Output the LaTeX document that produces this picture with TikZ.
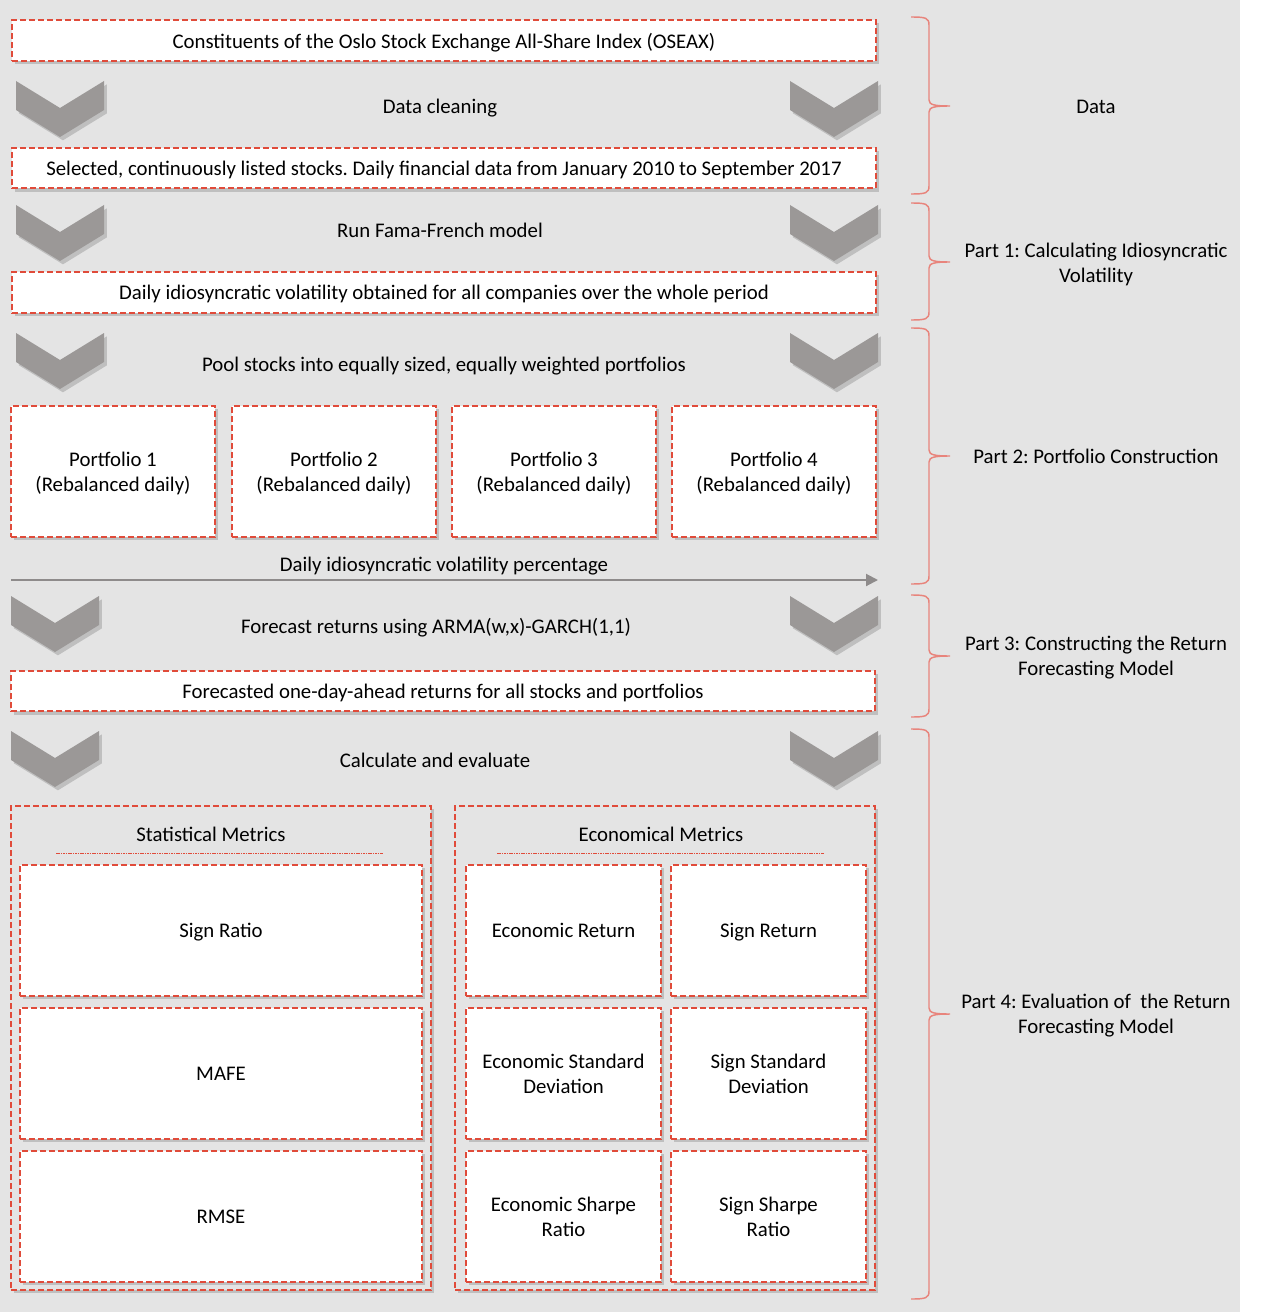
\documentclass[tikz,border=0pt]{standalone}
\usepackage{fontspec}
\setmainfont{Carlito}
\frenchspacing
\usetikzlibrary{shadows,arrows.meta}
\definecolor{bg}{HTML}{E4E4E4}
\definecolor{boxred}{HTML}{E04B3A}
\definecolor{bracered}{HTML}{E8847C}
\definecolor{chev}{HTML}{9B9897}
\definecolor{arrowgray}{HTML}{8E8B8B}
\tikzset{
  box/.style={draw=boxred, line width=1.5pt, dash pattern=on 4.5pt off 2.25pt,
    fill=white, inner sep=0pt, align=center, text depth=0pt,
    drop shadow={shadow xshift=2.2pt, shadow yshift=-2.5pt, fill=black, opacity=0.16}},
  widebox/.style={box, minimum width=648pt, minimum height=30.5pt},
  portbox/.style={box, minimum width=153pt, minimum height=98.25pt},
  groupbox/.style={box, fill=bg, minimum width=315pt, minimum height=363pt},
  statbox/.style={box, minimum width=301.5pt, minimum height=98.25pt},
  econbox/.style={box, minimum width=146.25pt, minimum height=98.25pt},
  plain/.style={inner sep=0pt, align=center, text depth=0pt},
  chevshape/.style={fill=chev, drop shadow={shadow xshift=2.2pt, shadow yshift=-2.5pt, fill=black, opacity=0.16}},
  bracestyle/.style={draw=bracered, line width=1.1pt},
  subline/.style={draw=boxred, line width=0.6pt, dash pattern=on 1.2pt off 0.6pt},
}
\newcommand{\mychev}[2]{%
  \path[chevshape] (#1,#2) -- ++(44,27) -- ++(44,-27) -- ++(0,29) -- ++(-44,27) -- ++(-44,-27) -- cycle;}
\newcommand{\mybrace}[3]{%
  \draw[bracestyle] (911,#1) .. controls (926,#1) and (929,#1+1) .. (929,#1+8)
    -- (929,#2-6) .. controls (929,#2-1) and (935,#2) .. (950,#2)
    .. controls (935,#2) and (929,#2+1) .. (929,#2+6)
    -- (929,#3-8) .. controls (929,#3-1) and (926,#3) .. (911,#3);}
\begin{document}
\begin{tikzpicture}[x=0.75pt,y=-0.75pt,
  every node/.style={font=\fontsize{15.6}{18.75}\selectfont, text=black}]
\useasboundingbox (0,0) rectangle (1279,1312);
\fill[bg] (0,0) rectangle (1240,1312);

% chevrons
\mychev{16}{81}  \mychev{790}{81}
\mychev{16}{205} \mychev{790}{205}
\mychev{16}{333} \mychev{790}{333}
\mychev{11}{596} \mychev{790}{596}
\mychev{11}{731} \mychev{790}{731}

% data boxes
\node[widebox] (oseax) at (444,40.5) {Constituents of the Oslo Stock Exchange All-Share Index (OSEAX)};
\node[plain] (clean) at (440,106) {Data cleaning};
\node[widebox] (selected) at (444,168) {Selected, continuously listed stocks. Daily financial data from January 2010 to September 2017};
\node[plain] (ff) at (440,230) {Run Fama-French model};
\node[widebox] (idio) at (444,292.5) {Daily idiosyncratic volatility obtained for all companies over the whole period};
\node[plain] (pool) at (444,364) {Pool stocks into equally sized, equally weighted portfolios};

\node[portbox] (p1) at (113,471.5) {Portfolio 1\\(Rebalanced daily)};
\node[portbox] (p2) at (334,471.5) {Portfolio 2\\(Rebalanced daily)};
\node[portbox] (p3) at (554,471.5) {Portfolio 3\\(Rebalanced daily)};
\node[portbox] (p4) at (774,471.5) {Portfolio 4\\(Rebalanced daily)};

\node[plain] (dailyvol) at (444,564) {Daily idiosyncratic volatility percentage};
\coordinate (arrS) at (11,580);
\coordinate (arrE) at (878,580);
\draw[draw=arrowgray, line width=1.5pt, -{Triangle[length=9pt,width=9pt]}] (arrS) -- (arrE);

\node[plain] (arma) at (436,626) {Forecast returns using ARMA(w,x)-GARCH(1,1)};
\node[widebox] (fcast) at (443,691) {Forecasted one-day-ahead returns for all stocks and portfolios};
\node[plain] (calc) at (435,760) {Calculate and evaluate};

% metric groups
\node[groupbox] (stat) at (221,1048) {};
\node[groupbox] (econ) at (665,1048) {};
\node[plain] (statT) at (211,834) {Statistical Metrics};
\node[plain] (econT) at (661,834) {Economical Metrics};
\coordinate (sl1) at (56,853); \coordinate (sl2) at (383,853);
\coordinate (el1) at (497,853); \coordinate (el2) at (824,853);
\draw[subline] (sl1) -- (sl2);
\draw[subline] (el1) -- (el2);

\node[statbox] (sr) at (221,930.5) {Sign Ratio};
\node[statbox] (mafe) at (221,1073.5) {MAFE};
\node[statbox] (rmse) at (221,1216.5) {RMSE};

\node[econbox] (er) at (563.5,930.5) {Economic Return};
\node[econbox] (sret) at (768.5,930.5) {Sign Return};
\node[econbox] (esd) at (563.5,1073.5) {Economic Standard\\Deviation};
\node[econbox] (ssd) at (768.5,1073.5) {Sign Standard\\Deviation};
\node[econbox] (esr) at (563.5,1216.5) {Economic Sharpe\\Ratio};
\node[econbox] (ssr) at (768.5,1216.5) {Sign Sharpe\\Ratio};

% braces
\mybrace{17}{106}{194}
\mybrace{203}{262}{320}
\mybrace{328}{456}{584}
\mybrace{595}{656}{717}
\mybrace{729}{1014}{1299}

\node[plain] (lData) at (1096,107) {Data};
\node[plain] (lP1) at (1096,263) {Part 1: Calculating Idiosyncratic\\Volatility};
\node[plain] (lP2) at (1096,456) {Part 2: Portfolio Construction};
\node[plain] (lP3) at (1096,656) {Part 3: Constructing the Return\\Forecasting Model};
\node[plain] (lP4) at (1096,1014) {Part 4: Evaluation of \ the Return\\Forecasting Model};
\end{tikzpicture}
\end{document}
